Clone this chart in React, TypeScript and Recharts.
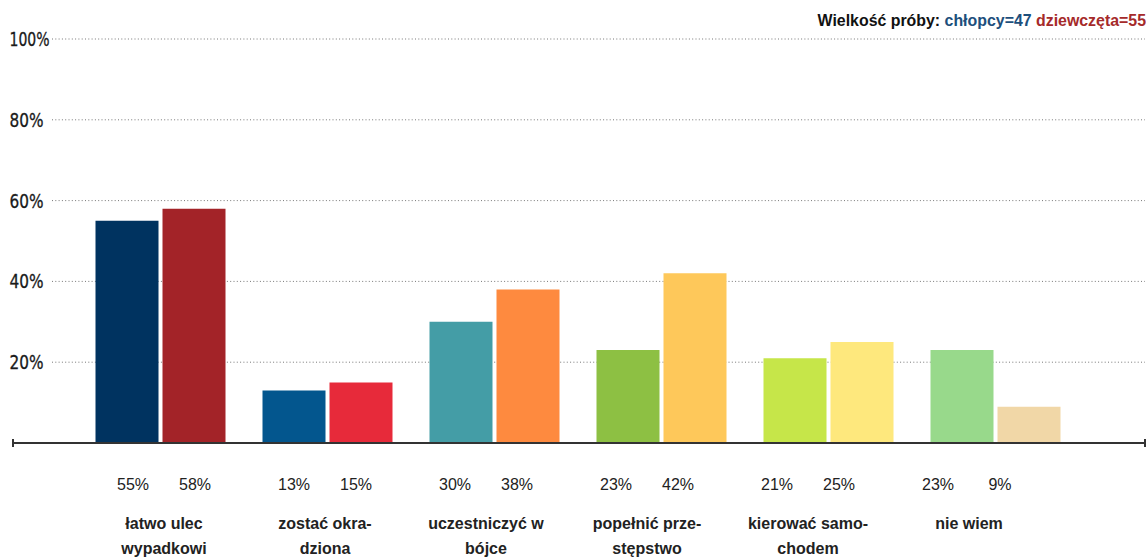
import { BarChart, Bar, XAxis, YAxis, CartesianGrid, Cell } from 'recharts';

// categories ("\n" marks the line break used under the axis)
const categories = [
  'łatwo ulec\nwypadkowi',
  'zostać okra-\ndziona',
  'uczestniczyć w\nbójce',
  'popełnić prze-\nstępstwo',
  'kierować samo-\nchodem',
  'nie wiem',
];
const boys = [55, 13, 30, 23, 21, 23];
const girls = [58, 15, 38, 42, 25, 9];
const boysColors = ['#003360', '#03568e', '#449da6', '#8dc043', '#c6e649', '#98d98b'];
const girlsColors = ['#a32328', '#e72a3a', '#fe8a3f', '#fec85a', '#fee87d', '#f1d7a7'];
const yTicks = [0, 20, 40, 60, 80, 100];
const sampleBoys = 47;
const sampleGirls = 55;

const data = categories.map((name, i) => ({ name, boys: boys[i], girls: girls[i] }));

const W = 1146;
const H = 560;
const MARGIN = { top: 39, right: 1, left: 12, bottom: 0 };
const TEXT = '#222';
const SANS = "'Liberation Sans', Arial, sans-serif";

const YTick = (props: any) => {
  const { y, payload } = props;
  if (payload.value === 0) return <g />;
  const label = `${payload.value}%`;
  return (
    <text
      x={9.5}
      y={y}
      dy={7}
      textAnchor="start"
      fill="#1a1a1a"
      fontFamily="'DejaVu Sans', sans-serif"
      fontStretch="condensed"
      fontSize={19.5}
      stroke="#1a1a1a"
      strokeWidth={0.3}
      textLength={(label.length - 1) * 6 + 22}
      lengthAdjust="spacingAndGlyphs"
    >
      {label}
    </text>
  );
};

// percentages for each pair + the category name below them
const LabelTick = (props: any) => {
  const { x, y, payload } = props;
  const idx = props.index ?? payload.index;
  const lines = String(payload.value).split('\n');
  return (
    <g>
      <text x={x - 31} y={y + 47} textAnchor="middle" fill={TEXT} fontFamily={SANS} fontSize={16}>
        {boys[idx]}%
      </text>
      <text x={x + 31} y={y + 47} textAnchor="middle" fill={TEXT} fontFamily={SANS} fontSize={16}>
        {girls[idx]}%
      </text>
      <text x={x} y={y + 86} textAnchor="middle" fill={TEXT} fontFamily={SANS} fontSize={16} fontWeight="bold">
        {lines.map((line, i) => (
          <tspan key={i} x={x} dy={i === 0 ? 0 : 25}>
            {line}
          </tspan>
        ))}
      </text>
    </g>
  );
};

export default function App() {
  return (
    <div style={{ position: 'absolute', left: 0, top: 0, width: W, height: H, background: '#fff', overflow: 'hidden' }}>
      {/* bars, grid and y labels */}
      <div style={{ position: 'absolute', left: 0, top: 0 }}>
        <BarChart width={W} height={H} data={data} margin={{ ...MARGIN, left: 0 }} barGap={4}>
          <CartesianGrid vertical={false} x={52} width={1093} stroke="#777" strokeDasharray="1 2.3" />
          {/* end caps of the base line */}
          <CartesianGrid
            horizontal={false}
            verticalPoints={[13, 1145]}
            y={439}
            height={8}
            stroke="#333"
            strokeWidth={2}
          />
          <YAxis
            width={12}
            domain={[0, 100]}
            ticks={yTicks}
            axisLine={false}
            tickLine={false}
            tick={<YTick />}
          />
          <XAxis
            dataKey="name"
            padding={{ left: 64.5, right: 66.5 }}
            height={117}
            tick={false}
            tickLine={false}
            axisLine={{ stroke: '#333', strokeWidth: 2 }}
          />
          <Bar dataKey="boys" barSize={63} isAnimationActive={false}>
            {data.map((_d, i) => (
              <Cell key={`b-${i}`} fill={boysColors[i]} />
            ))}
          </Bar>
          <Bar dataKey="girls" barSize={63} isAnimationActive={false}>
            {data.map((_d, i) => (
              <Cell key={`g-${i}`} fill={girlsColors[i]} />
            ))}
          </Bar>
        </BarChart>
      </div>
      {/* value table + category names under the axis */}
      <div style={{ position: 'absolute', left: 0, top: 0 }}>
        <BarChart width={W} height={H} data={data} margin={MARGIN}>
          <YAxis hide domain={[0, 100]} />
          <XAxis
            dataKey="name"
            padding={{ left: 71.5, right: 95.5 }}
            height={117}
            axisLine={false}
            tickLine={false}
            tickSize={0}
            tickMargin={0}
            interval={0}
            tick={<LabelTick />}
          />
        </BarChart>
      </div>
      <div
        style={{
          position: 'absolute',
          right: 0,
          top: 12,
          lineHeight: '18px',
          fontFamily: SANS,
          fontSize: 15.9,
          fontWeight: 'bold',
          whiteSpace: 'nowrap',
          color: '#111',
        }}
      >
        Wielkość próby: <span style={{ color: '#1d4f7c' }}>chłopcy={sampleBoys}</span>{' '}
        <span style={{ color: '#a52a2a' }}>dziewczęta={sampleGirls}</span>
      </div>
    </div>
  );
}
